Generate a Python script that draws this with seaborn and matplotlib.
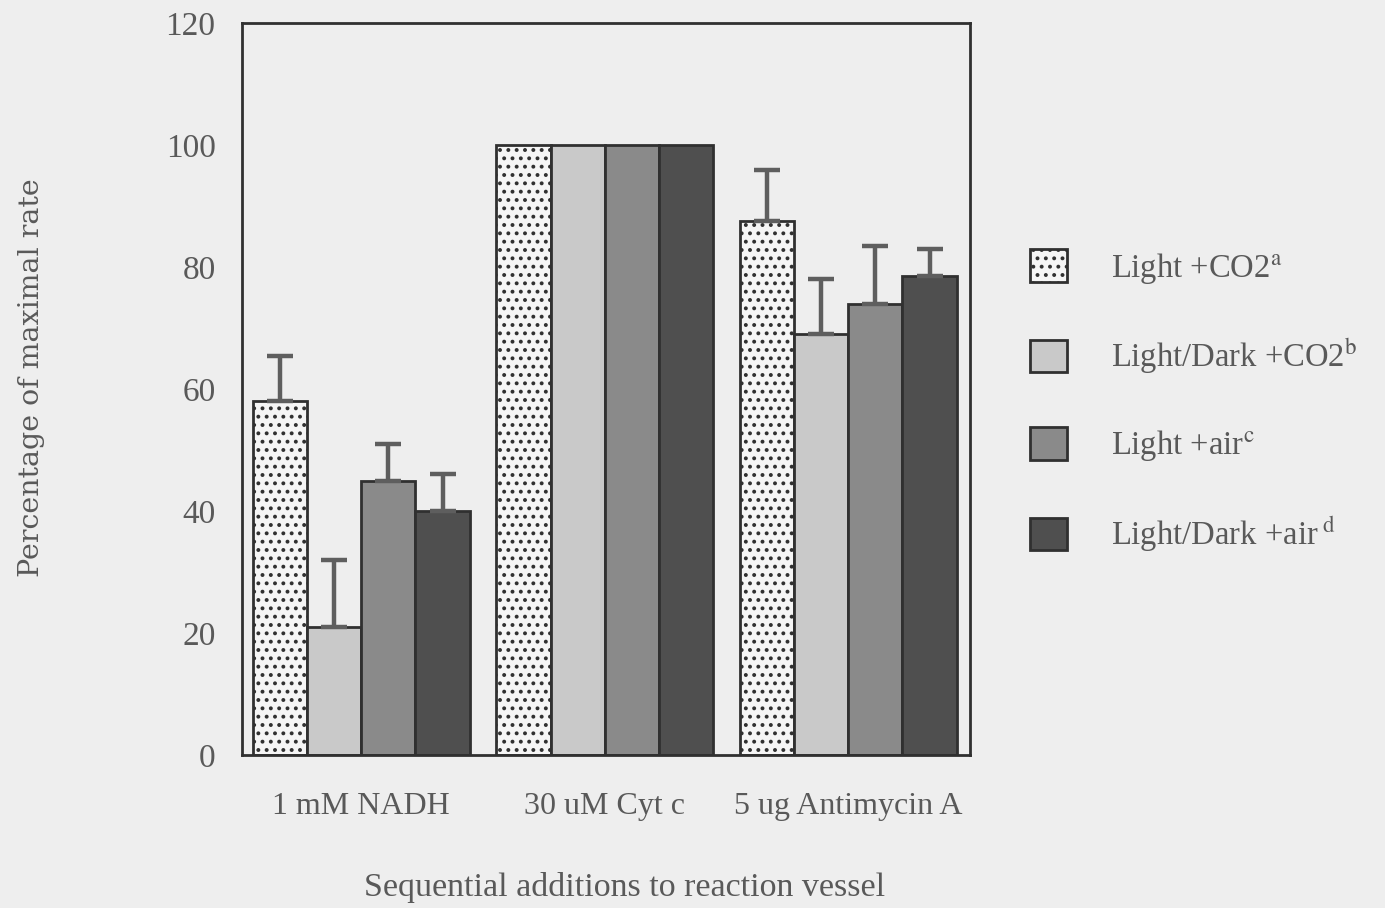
import numpy as np
import pandas as pd
import seaborn as sns
import matplotlib
matplotlib.use("Agg")
import matplotlib.pyplot as plt
from matplotlib.patches import Patch

# Data: percentage of maximal rate after each sequential addition
additions = ["1 mM NADH", "30 uM Cyt c", "5 ug Antimycin A"]
conditions = [
    "Light +CO2$^{\\mathrm{a}}$",
    "Light/Dark +CO2$^{\\mathrm{b}}$",
    "Light +air$^{\\mathrm{c}}$",
    "Light/Dark +air$^{\\ \\mathrm{d}}$",
]
light_co2 = [58, 100, 87.5]
lightdark_co2 = [21, 100, 69]
light_air = [45, 100, 74]
lightdark_air = [40, 100, 78.5]
# upper error (SE) per bar; Cyt c set to 100 % so no error
err_light_co2 = [7.5, 0, 8.5]
err_lightdark_co2 = [11, 0, 9]
err_light_air = [6, 0, 9.5]
err_lightdark_air = [6, 0, 4.5]

series = [light_co2, lightdark_co2, light_air, lightdark_air]
errors = [err_light_co2, err_lightdark_co2, err_light_air, err_lightdark_air]

df = pd.DataFrame(
    [(a, c, v[i]) for c, v in zip(conditions, series) for i, a in enumerate(additions)],
    columns=["addition", "condition", "rate"],
)

TXT = "#595959"
INK = "#303030"
BG = "#eeeeee"
faces = ["#f5f5f5", "#c9c9c9", "#8a8a8a", "#4f4f4f"]
hatches = ["..", None, None, None]

sns.set_theme(style="white")
plt.rcParams["font.family"] = ["Liberation Serif", "DejaVu Serif"]
plt.rcParams["mathtext.fontset"] = "stix"
plt.rcParams["hatch.linewidth"] = 1.6

fig = plt.figure(figsize=(13.85, 9.08), dpi=100, facecolor=BG)
ax = fig.add_axes([0.1747, 0.1685, 0.5257, 0.806])
ax.set_facecolor(BG)

sns.barplot(data=df, x="addition", y="rate", hue="condition", order=additions,
            hue_order=conditions, palette=faces, width=0.89, gap=0,
            errorbar=None, legend=False, ax=ax, saturation=1)

bar_groups = list(ax.containers)
for k, cont in enumerate(bar_groups):
    xs, tops = [], []
    for p in cont.patches:
        p.set_edgecolor(INK)
        p.set_linewidth(2)
        p.set_facecolor(faces[k])
        if hatches[k]:
            p.set_hatch(hatches[k])
        xs.append(p.get_x() + p.get_width() / 2)
        tops.append(p.get_height())
    xs, tops, e = np.array(xs), np.array(tops), np.array(errors[k], float)
    m = e > 0
    ax.errorbar(xs[m], tops[m], yerr=[np.zeros(m.sum()), e[m]], fmt="none",
                ecolor="#5e5e5e", elinewidth=3.2, capsize=9.5, capthick=3.2, zorder=1)

ax.set_ylim(0, 120)
ax.set_xlim(-0.49, 2.5)
ax.set_yticks([0, 20, 40, 60, 80, 100, 120])
for s in ax.spines.values():
    s.set_color(INK)
    s.set_linewidth(2)
ax.tick_params(axis="both", direction="out", length=14, width=2, color=INK,
               labelsize=23, labelcolor=TXT)
ax.tick_params(axis="y", pad=5, labelsize=24)
ax.tick_params(axis="x", pad=12.5)
ax.set_xlabel("Sequential additions to reaction vessel", fontsize=24.5, color=TXT)
ax.xaxis.set_label_coords(0.525, -0.1605)
ax.set_ylabel("Percentage of maximal rate", fontsize=20.5, color=TXT,
              family=["DejaVu Serif"])
ax.yaxis.set_label_coords(-0.27, 0.516)

handles = [Patch(facecolor=faces[k], edgecolor=INK, linewidth=2, hatch=hatches[k] or "")
           for k in range(4)]
leg = fig.legend(handles, conditions, loc="upper left", bbox_to_anchor=(0.7435, 0.7253),
                 frameon=False, fontsize=23.5, handlelength=1.15, handleheight=1.15,
                 labelspacing=1.56, handletextpad=1.35, borderpad=0, borderaxespad=0)
for t in leg.get_texts():
    t.set_color(TXT)

fig.savefig("out.png", dpi=100, facecolor=BG)
